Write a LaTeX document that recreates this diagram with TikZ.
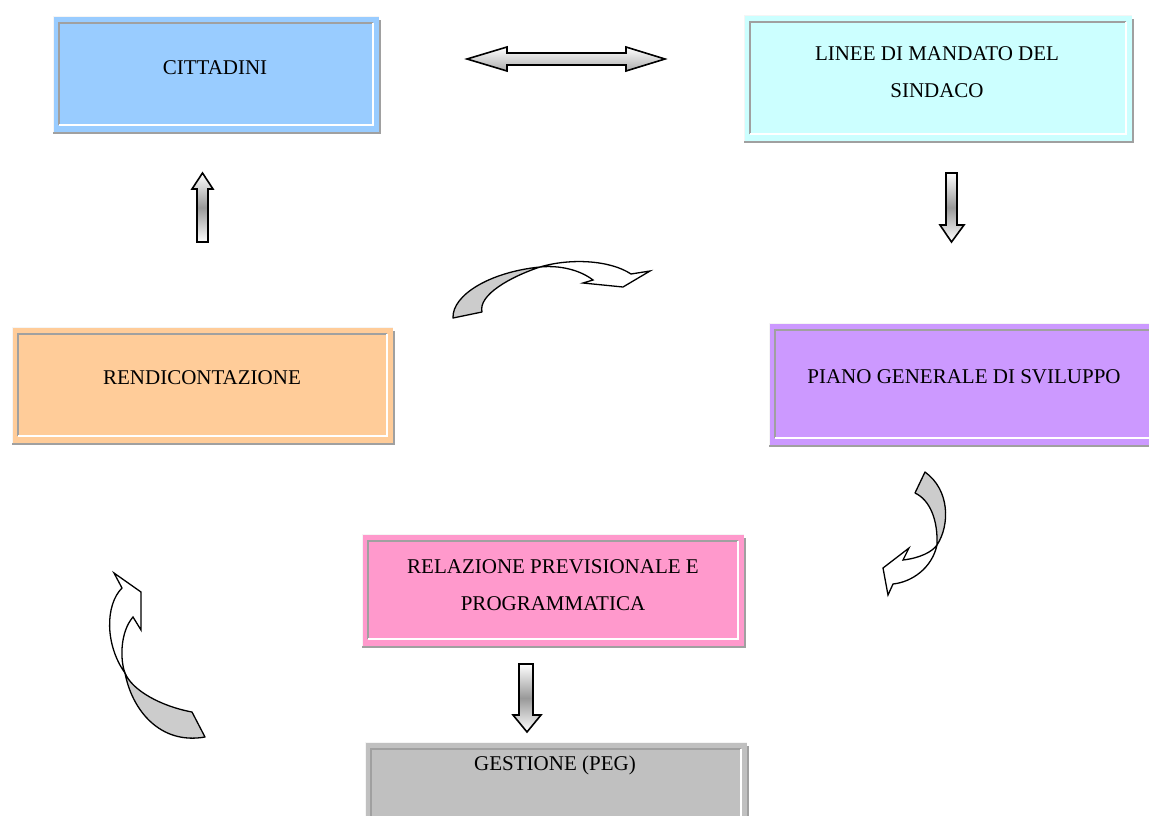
\documentclass[tikz,border=0pt]{standalone}
\usepackage{fontspec}
\setmainfont{Liberation Serif}
\usepackage{tikz}
\usetikzlibrary{positioning}

\definecolor{cittcol}{HTML}{99CCFF}
\definecolor{lineecol}{HTML}{CCFFFF}
\definecolor{pianocol}{HTML}{CC99FF}
\definecolor{rendcol}{HTML}{FFCC99}
\definecolor{relcol}{HTML}{FF99CC}
\definecolor{gestcol}{HTML}{C0C0C0}
\definecolor{framegray}{HTML}{A0A0A0}
\definecolor{backgray}{HTML}{CCCCCC}

\begin{document}
\begin{tikzpicture}[
x=1pt, y=-1pt,
panel/.style={draw=none, inner sep=0pt, outer sep=0pt},
txt/.style={align=center, inner sep=0pt, font=\fontsize{21}{37}\selectfont},
blockarrow/.style={draw=black, line width=1.6pt, line join=miter, shading=axis, top color=white, bottom color=white, middle color=gray!80},
flatarrow/.style={draw=black, line width=1.6pt, line join=miter, shading=axis, top color=white, bottom color=gray!65},
ribbon/.style={draw=black, line width=1.3pt, fill=white, line join=miter},
ribbonback/.style={draw=black, line width=1.3pt, fill=backgray, line join=round}
]
\clip (0,0) rectangle (1149,815);

% boxes
\node[panel, fill=cittcol, minimum width=326, minimum height=116] (citt) at (216,74) {};
\node[panel, fill=lineecol, minimum width=388, minimum height=126] (linee) at (938,78) {};
\node[panel, fill=pianocol, minimum width=391, minimum height=122] (piano) at (964.5,384) {};
\node[panel, fill=rendcol, minimum width=381, minimum height=116] (rend) at (202.5,385) {};
\node[panel, fill=relcol, minimum width=382, minimum height=112] (rel) at (553,590) {};
\node[panel, fill=gestcol, minimum width=382, minimum height=86] (gest) at (556,785) {};

% shadow and inset frame of every box
\foreach \b in {citt,linee,piano,rend,rel,gest}{
  \draw[white!92!gray, line width=1pt] (\b.south west) -- (\b.north west) -- (\b.north east);
  \draw[framegray, line width=2.5pt] ([xshift=1.2pt,yshift=-4pt]\b.north east) -- ([xshift=1.2pt,yshift=-1.2pt]\b.south east) -- ([yshift=-1.2pt]\b.south west);
  \draw[framegray, line width=1.6pt] ([xshift=6pt,yshift=7pt]\b.south west) -- ([xshift=6pt,yshift=-7pt]\b.north west) -- ([xshift=-6pt,yshift=-7pt]\b.north east);
  \draw[white, line width=1.6pt] ([xshift=-6pt,yshift=-7pt]\b.north east) -- ([xshift=-6pt,yshift=7pt]\b.south east) -- ([xshift=6pt,yshift=7pt]\b.south west);
}

% texts
\node[txt] (citt text) at (215,68) {CITTADINI};
\node[txt] (linee text) at (937,72.5) {LINEE DI MANDATO DEL\\SINDACO};
\node[txt] (piano text) at (964,377) {PIANO GENERALE DI SVILUPPO};
\node[txt] (rend text) at (202,378) {RENDICONTAZIONE};
\node[txt] (rel text) at (553,585) {RELAZIONE PREVISIONALE E\\PROGRAMMATICA};
\node[txt, anchor=base] (gest text) at (555,770) {GESTIONE (PEG)};

% straight block arrows
\draw[flatarrow] (467,59) -- (507,47) -- (507,53) -- (626,53) -- (626,47) -- (665,59)
  -- (626,71) -- (626,65) -- (507,65) -- (507,71) -- cycle;
\draw[blockarrow] (197,242) -- (197,189) -- (192,189) -- (202.5,173) -- (213,189)
  -- (208,189) -- (208,242) -- cycle;
\draw[blockarrow] (946,173) -- (957,173) -- (957,225) -- (964,225) -- (951.5,242)
  -- (940,225) -- (946,225) -- cycle;
\draw[blockarrow] (519,664) -- (533,664) -- (533,715) -- (541,715) -- (527,732)
  -- (513,715) -- (519,715) -- cycle;

% curved arrows
\draw[ribbonback] (453,318) .. controls (452,295) and (490,272) .. (540,267)
  .. controls (510,277) and (478,295) .. (482,312) -- cycle;
\draw[ribbon] (540,267) .. controls (570,258) and (610,260) .. (631,274) -- (650,271)
  -- (623,287) -- (583,283) -- (593,280) .. controls (580,270) and (560,265) .. (540,267) -- cycle;

\draw[ribbonback] (925,472) .. controls (950,490) and (950,525) .. (937,545)
  .. controls (938,520) and (930,500) .. (915,493) -- cycle;
\draw[ribbon] (937,545) .. controls (932,568) and (912,582) .. (893,584) -- (888,595)
  -- (883,568) -- (909,548) -- (903,560) .. controls (920,558) and (932,552) .. (937,545) -- cycle;

\draw[ribbonback] (192,712) .. controls (160,706) and (132,690) .. (125,673)
  .. controls (132,710) and (160,745) .. (205,737) -- cycle;
\draw[ribbon] (125,673) .. controls (105,645) and (105,605) .. (122,588) -- (114,573)
  -- (141,592) -- (141,630) -- (133,617) .. controls (120,632) and (120,660) .. (125,673) -- cycle;
\end{tikzpicture}
\end{document}
